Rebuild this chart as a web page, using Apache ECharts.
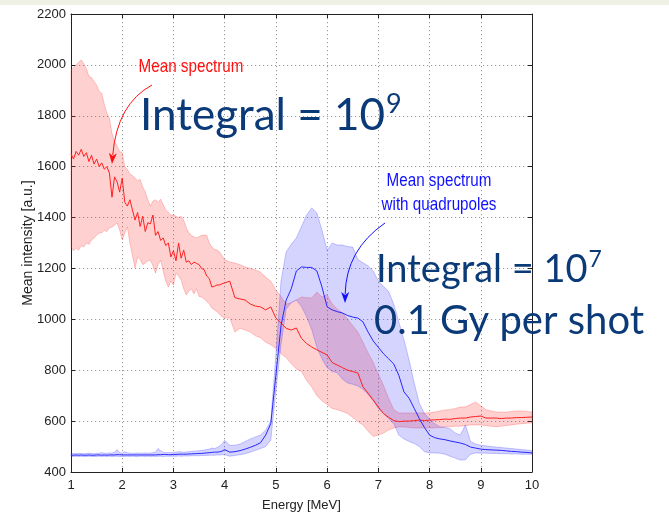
<!DOCTYPE html>
<html>
<head>
<meta charset="utf-8">
<script src="https://cdn.jsdelivr.net/npm/echarts@6/dist/echarts.min.js"></script>
<style>
html,body{margin:0;padding:0;background:#fff;}
#chart{width:669px;height:517px;}
</style>
</head>
<body>
<div id="chart"></div>
<script>
// ---------------- DATA ----------------
const energy = [
  1.00,1.05,1.10,1.15,1.20,1.25,1.30,1.35,1.40,1.45,
  1.50,1.55,1.60,1.65,1.70,1.75,1.80,1.85,1.90,1.95,
  2.00,2.05,2.10,2.15,2.20,2.25,2.30,2.35,2.40,2.45,
  2.50,2.55,2.60,2.65,2.70,2.75,2.80,2.85,2.90,2.95,
  3.00,3.05,3.10,3.15,3.20,3.25,3.30,3.35,3.40,3.45,
  3.50,3.55,3.60,3.65,3.70,3.75,3.80,3.85,3.90,3.95,
  4.00,
  4.1,4.2,4.3,4.4,4.5,4.6,4.7,4.8,4.9,
  5.0,5.1,5.2,5.3,5.4,5.5,5.6,5.7,5.8,5.9,
  6.0,6.1,6.2,6.3,6.4,6.5,6.6,6.7,6.8,6.9,
  7.0,7.1,7.2,7.3,7.4,7.5,7.6,7.7,7.8,7.9,
  8.0,8.1,8.2,8.3,8.4,8.5,8.6,8.7,8.8,8.9,
  9.0,9.1,9.2,9.3,9.4,9.5,9.6,9.7,9.8,9.9,
  10.0
];

// Mean spectrum (red)
const redMean = [
  1650,1630,1660,1645,1668,1640,1655,1620,1645,1610,
  1630,1600,1615,1590,1600,1575,1480,1560,1540,1500,
  1555,1460,1445,1470,1430,1390,1420,1365,1405,1345,
  1380,1375,1410,1330,1345,1310,1320,1290,1300,1245,
  1270,1230,1300,1240,1272,1225,1230,1215,1225,1220,
  1215,1200,1195,1170,1160,1127,1130,1135,1135,1140,
  1143,
  1150,1085,1080,1076,1060,1052,1049,1037,1049,
  1005,985,965,958,966,925,905,891,880,870,
  860,830,820,810,800,795,789,735,710,683,
  655,630,615,602,598,600,600,602,604,602,
  604,605,606,608,607,610,612,612,616,618,
  620,612,612,612,610,612,612,614,614,615,
  616
];
const redUpper = [
  1980,1990,2000,2011,2019,2005,1985,1955,1950,1935,
  1920,1895,1889,1845,1810,1790,1730,1700,1680,1660,
  1655,1600,1590,1570,1565,1555,1545,1550,1520,1500,
  1470,1445,1465,1470,1460,1472,1450,1430,1420,1410,
  1410,1405,1400,1405,1390,1360,1340,1330,1324,1320,
  1325,1330,1331,1330,1300,1284,1275,1272,1265,1250,
  1235,
  1225,1221,1215,1206,1200,1194,1185,1166,1150,
  1115,1090,1060,1065,1076,1088,1085,1084,1107,1088,
  1096,1060,1040,1025,1000,975,950,910,868,830,
  785,740,690,645,632,632,632,632,632,632,
  633,636,640,644,645,650,655,656,665,675,
  660,645,640,636,635,635,638,640,640,638,
  636
];
const redLower = [
  1284,1270,1280,1272,1290,1285,1300,1295,1312,1320,
  1330,1339,1340,1351,1345,1360,1363,1370,1379,1350,
  1312,1340,1363,1300,1250,1202,1245,1235,1215,1221,
  1230,1233,1210,1182,1215,1233,1190,1150,1127,1150,
  1135,1182,1170,1155,1120,1096,1110,1120,1100,1120,
  1090,1088,1080,1070,1060,1045,1037,1030,1020,1010,
  1005,
  1005,950,965,958,950,935,928,910,900,
  885,865,850,825,805,795,760,734,700,680,
  665,650,645,638,630,615,598,585,560,540,
  545,553,565,573,577,577,575,573,573,573,
  573,573,575,577,578,580,580,582,585,585,
  585,582,580,578,580,583,585,588,590,592,
  593
];

// Mean spectrum with quadrupoles (blue)
const blueMean = [
  466,466,467,466,467,466,466,467,466,466,
  467,467,466,467,466,467,467,467,468,468,
  467,467,467,467,467,467,467,467,467,467,
  467,467,467,467,468,468,469,469,468,468,
  469,469,470,470,470,470,471,471,472,472,
  473,473,474,475,476,477,478,478,479,482,
  488,
  478,480,484,490,497,505,515,545,590,
  780,975,1075,1120,1190,1206,1204,1204,1190,1127,
  1049,1037,1030,1025,1015,1009,1005,990,950,915,
  890,865,845,825,780,715,690,650,610,575,
  545,535,530,527,522,518,514,508,498,494,
  490,488,487,486,485,483,481,480,478,477,
  475
];
const blueUpper = [
  472,473,472,474,473,472,473,474,473,472,
  473,474,476,474,473,475,474,478,488,476,
  474,480,476,474,473,474,475,474,474,475,
  474,475,476,478,492,484,478,476,477,476,
  477,478,480,479,478,479,480,481,482,483,
  484,485,486,488,490,494,492,496,502,510,
  525,
  505,505,510,520,530,538,545,565,600,
  860,1150,1265,1295,1320,1365,1410,1438,1418,1350,
  1272,1300,1292,1292,1286,1284,1235,1222,1210,1190,
  1150,1130,1110,1060,990,920,840,750,670,630,
  608,590,578,575,570,553,545,585,520,510,
  505,503,500,498,496,494,492,490,488,486,
  484
];
const blueLower = [
  461,461,462,461,462,461,461,462,461,461,
  461,462,461,462,461,462,461,462,462,461,
  461,461,462,461,462,461,461,462,462,461,
  462,461,462,461,462,462,461,462,462,462,
  462,462,463,462,463,463,463,464,464,464,
  464,465,465,465,466,466,466,467,467,468,
  468,
  462,465,468,472,478,485,492,500,525,
  720,900,1040,1066,1076,1050,1010,960,890,845,
  810,795,790,765,750,745,738,725,705,680,
  650,630,610,590,545,530,520,512,500,480,
  475,475,474,470,462,455,447,448,470,475,
  474,474,473,473,472,472,471,471,470,470,
  470
];

const xTicks = [1,2,3,4,5,6,7,8,9,10];
const yTicks = [400,600,800,1000,1200,1400,1600,1800,2000,2200];

// ---------------- HELPERS ----------------
const annFont = '"Liberation Sans", Arial, sans-serif';
const bigFont = 'Lato, "Open Sans", "Noto Sans", sans-serif';
function textWidth(str, size, fam){
  const c = document.createElement('canvas').getContext('2d');
  c.font = size + 'px ' + fam;
  return c.measureText(str).width;
}

const chart = echarts.init(document.getElementById('chart'), null, {renderer:'canvas'});

function bandSeries(lo, hi, fill, stroke){
  return {
    type: 'custom',
    xAxisIndex: 0, yAxisIndex: 0,
    silent: true,
    data: energy.map((e,i) => [e, lo[i], hi[i]]),
    encode: {x: 0, y: [1, 2]},
    renderItem: function(params, api){
      if (params.dataIndex !== 0) return null;
      const pts = [];
      const n = Math.min(energy.length, lo.length, hi.length);
      for (let i = 0; i < n; i++) pts.push(api.coord([energy[i], hi[i]]));
      for (let i = n - 1; i >= 0; i--) pts.push(api.coord([energy[i], lo[i]]));
      return {
        type: 'polygon',
        shape: {points: pts},
        style: {fill: fill, stroke: stroke, lineWidth: 1}
      };
    }
  };
}
function lineSeries(vals, color){
  return {
    type: 'line',
    xAxisIndex: 0, yAxisIndex: 0,
    data: energy.map((e,i) => [e, vals[i]]),
    showSymbol: false,
    symbol: 'none',
    lineStyle: {color: color, width: 1},
    silent: true
  };
}

function arrow(x0, y0, cx, cy, x1, y1, color){
  const dx = x1 - cx, dy = y1 - cy;
  const len = Math.sqrt(dx*dx + dy*dy);
  const ux = dx/len, uy = dy/len;
  const L = 11, W = 4;
  const bx = x1 - ux*L, by = y1 - uy*L;
  const px = -uy, py = ux;
  return [
    {type:'bezierCurve', shape:{x1:x0, y1:y0, cpx1:cx, cpy1:cy, x2:bx+ux*2, y2:by+uy*2},
     style:{stroke:color, lineWidth:1, fill:null}, z:100},
    {type:'polygon', shape:{points:[[x1,y1],[bx+px*W, by+py*W],[bx+ux*3, by+uy*3],[bx-px*W, by-py*W]]},
     style:{fill:color}, z:100}
  ];
}
function narrowText(str, x, y, color){
  return {type:'text', x:x, y:y, scaleX:0.8, scaleY:1, z:100,
    style:{text:str, fill:color, fontSize:19, fontFamily:annFont, align:'center', verticalAlign:'middle'}};
}

const big1 = 'Integral = 10';
const big1Size = 44;
const big1W = textWidth(big1, big1Size, bigFont);
const big2Size = 38;
const big2W = textWidth(big1, big2Size, bigFont);
const darkBlue = '#0b3a78';
const axisFont = '"Liberation Sans", Arial, sans-serif';

const graphics = [
  {type:'rect', shape:{x:0, y:0, width:669, height:5}, style:{fill:'#eef1e4'}, z:-10},
  {type:'text', x:28, y:243, rotation:Math.PI/2, z:100,
   style:{text:'Mean intensity [a.u.]', fill:'#222', fontSize:14, fontFamily:axisFont, align:'center', verticalAlign:'middle'}},
  narrowText('Mean spectrum', 191, 67, '#ff1010'),
  narrowText('Mean spectrum', 439, 181, '#1010ff'),
  narrowText('with quadrupoles', 439, 205, '#1010ff'),
  {type:'text', z:100, style:{text:big1, x:140, y:116, fill:darkBlue, fontSize:big1Size, fontFamily:bigFont, align:'left', verticalAlign:'middle'}},
  {type:'text', z:100, style:{text:'9', x:140 + big1W + 1, y:104, fill:darkBlue, fontSize:27, fontFamily:bigFont, align:'left', verticalAlign:'middle'}},
  {type:'text', z:100, style:{text:big1, x:376, y:270, fill:darkBlue, fontSize:big2Size, fontFamily:bigFont, align:'left', verticalAlign:'middle'}},
  {type:'text', z:100, style:{text:'7', x:376 + big2W + 1, y:260, fill:darkBlue, fontSize:23, fontFamily:bigFont, align:'left', verticalAlign:'middle'}},
  {type:'text', z:100, style:{text:'0.1 Gy per shot', x:374, y:321, fill:darkBlue, fontSize:40, fontFamily:bigFont, align:'left', verticalAlign:'middle'}}
].concat(arrow(152, 85, 117, 104, 112, 164, '#ff1010'))
 .concat(arrow(385, 223, 346, 250, 345, 303, '#1010ff'));

const option = {
  animation: false,
  backgroundColor: '#ffffff',
  grid: {left: 71, top: 14, right: 137, bottom: 45, containLabel: false},
  xAxis: [{
    type: 'value', min: 1, max: 10, interval: 1,
    name: 'Energy [MeV]', nameLocation: 'middle', nameGap: 27,
    nameTextStyle: {color: '#222', fontSize: 13, fontFamily: axisFont},
    axisLine: {show: true, onZero: false, lineStyle: {color: '#222', width: 1}},
    axisTick: {show: true, inside: true, length: 4, lineStyle: {color: '#222'}},
    axisLabel: {color: '#222', fontSize: 13, fontFamily: axisFont, margin: 7,
      formatter: v => xTicks.indexOf(v) >= 0 ? String(v) : ''},
    splitLine: {show: true, lineStyle: {color: '#9a9a9a', type: [1.2, 2.8], width: 1}}
  }, {
    type: 'value', min: 1, max: 10, interval: 1, position: 'top',
    axisLine: {show: true, onZero: false, lineStyle: {color: '#222', width: 1}},
    axisTick: {show: true, inside: true, length: 4, lineStyle: {color: '#222'}},
    axisLabel: {show: false}, splitLine: {show: false}
  }],
  yAxis: [{
    type: 'value', min: 400, max: 2200, interval: 200,
    axisLine: {show: true, onZero: false, lineStyle: {color: '#222', width: 1}},
    axisTick: {show: true, inside: true, length: 4, lineStyle: {color: '#222'}},
    axisLabel: {color: '#222', fontSize: 13, fontFamily: axisFont, margin: 5,
      formatter: v => yTicks.indexOf(v) >= 0 ? String(v) : ''},
    splitLine: {show: true, lineStyle: {color: '#9a9a9a', type: [1.2, 2.8], width: 1}}
  }, {
    type: 'value', min: 400, max: 2200, interval: 200, position: 'right',
    axisLine: {show: true, onZero: false, lineStyle: {color: '#222', width: 1}},
    axisTick: {show: true, inside: true, length: 4, lineStyle: {color: '#222'}},
    axisLabel: {show: false}, splitLine: {show: false}
  }],
  series: [
    bandSeries(redLower, redUpper, 'rgba(255,40,40,0.22)', 'rgba(255,60,60,0.28)'),
    bandSeries(blueLower, blueUpper, 'rgba(40,40,255,0.20)', 'rgba(60,60,255,0.28)'),
    lineSeries(redMean, '#ff2020'),
    lineSeries(blueMean, '#2626ff')
  ],
  graphic: graphics
};
chart.setOption(option);
</script>
</body>
</html>
